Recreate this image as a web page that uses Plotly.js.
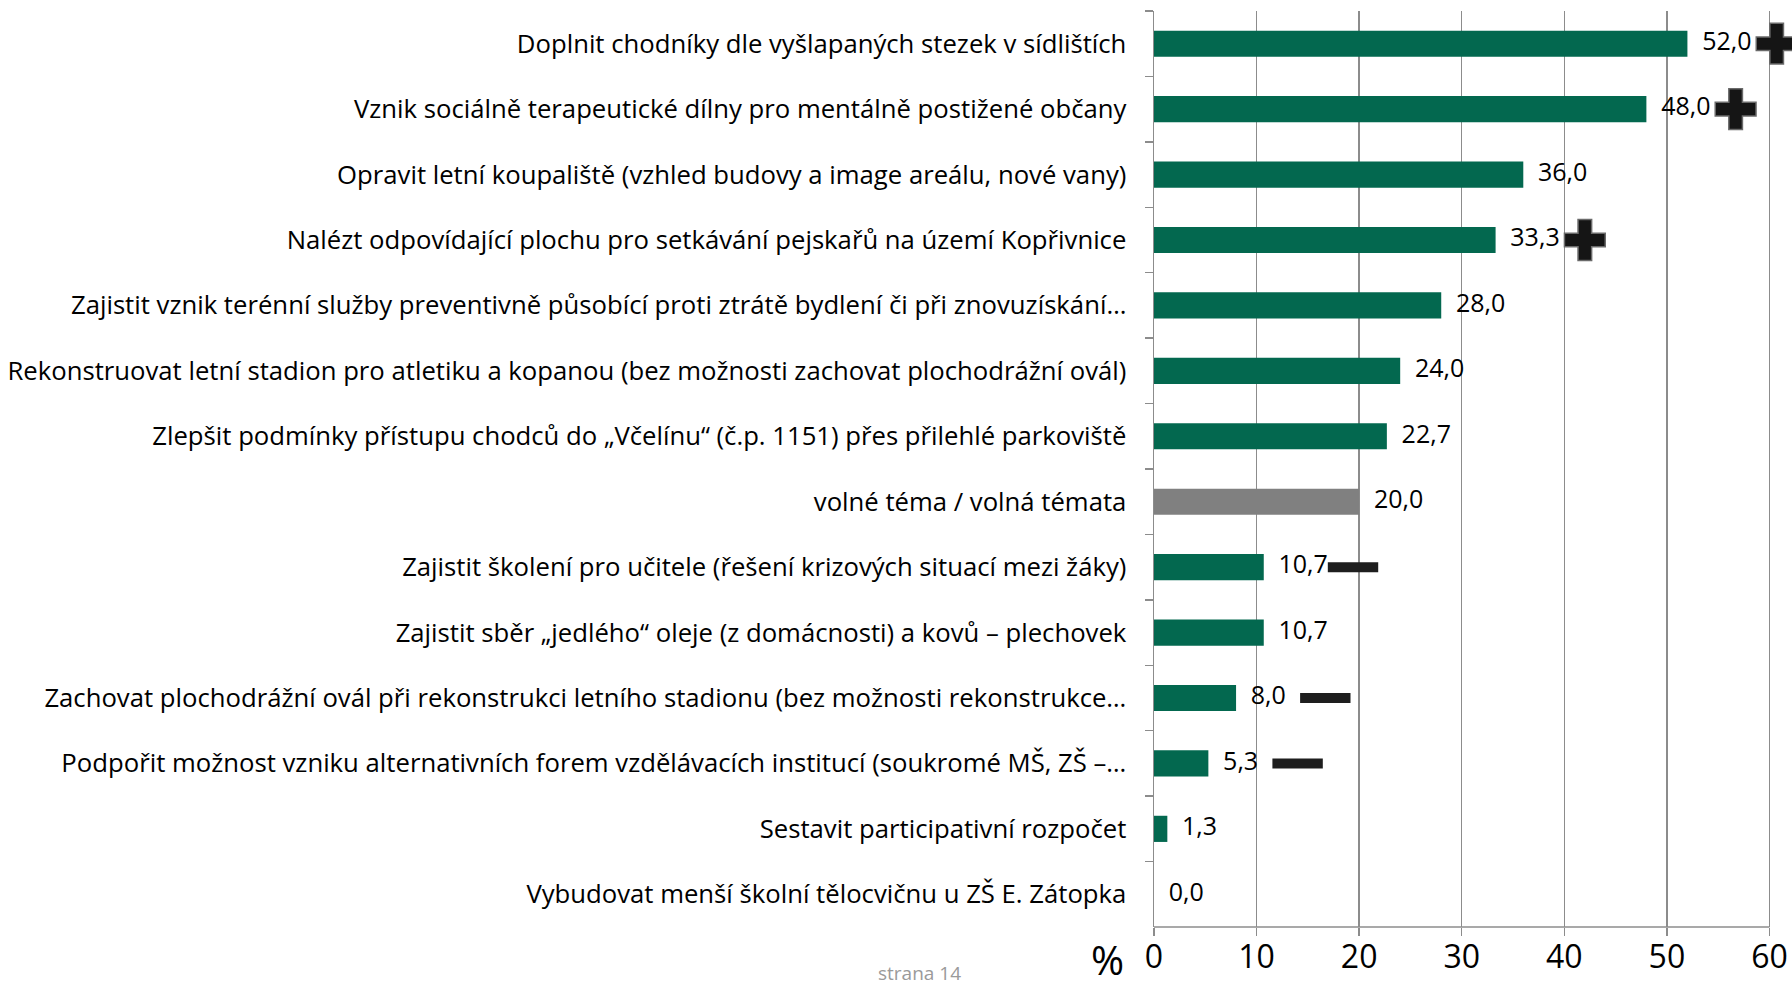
<!DOCTYPE html>
<html>
<head>
<meta charset="utf-8">
<script src="https://cdn.plot.ly/plotly-3.0.1.min.js"></script>
<style>
  html, body { margin: 0; padding: 0; background: #fff; }
  #chart { width: 1792px; height: 988px; }
</style>
</head>
<body>
<div id="chart"></div>
<script>
const categories = [
  'Doplnit chodníky dle vyšlapaných stezek v sídlištích',
  'Vznik sociálně terapeutické dílny pro mentálně postižené občany',
  'Opravit letní koupaliště (vzhled budovy a image areálu, nové vany)',
  'Nalézt odpovídající plochu pro setkávání pejskařů na území Kopřivnice',
  'Zajistit vznik terénní služby preventivně působící proti ztrátě bydlení či při znovuzískání…',
  'Rekonstruovat letní stadion pro atletiku a kopanou (bez možnosti zachovat plochodrážní ovál)',
  'Zlepšit podmínky přístupu chodců do „Včelínu“ (č.p. 1151) přes přilehlé parkoviště',
  'volné téma / volná témata',
  'Zajistit školení pro učitele (řešení krizových situací mezi žáky)',
  'Zajistit sběr „jedlého“ oleje (z domácnosti) a kovů – plechovek',
  'Zachovat plochodrážní ovál při rekonstrukci letního stadionu (bez možnosti rekonstrukce…',
  'Podpořit možnost vzniku alternativních forem vzdělávacích institucí (soukromé MŠ, ZŠ –…',
  'Sestavit participativní rozpočet',
  'Vybudovat menší školní tělocvičnu u ZŠ E. Zátopka'
];
const values = [52.0, 48.0, 36.0, 33.3, 28.0, 24.0, 22.7, 20.0, 10.7, 10.7, 8.0, 5.3, 1.3, 0.0];
const signs = ['+', '+', '', '+', '', '', '', '', '-', '', '-', '-', '', ''];
const freeTopic = 'volné téma / volná témata';
const xTicks = [0, 10, 20, 30, 40, 50, 60];

const GREEN = '#03684f';
const GREY_BAR = '#808080';
const GRID = '#8c8c8c';
const FONT = '"Open Sans", "Noto Sans", sans-serif';

const fmt = v => v.toFixed(1).replace('.', ',');
const SIGN_OFFSET = 8.7;
const X_MAX = 60;

const plusIdx = signs.map((s, i) => s === '+' ? i : -1).filter(i => i >= 0);
const minusIdx = signs.map((s, i) => s === '-' ? i : -1).filter(i => i >= 0);

const traces = [
  {
    type: 'bar', orientation: 'h',
    x: values, y: categories,
    marker: { color: categories.map(c => c === freeTopic ? GREY_BAR : GREEN) },
    width: 0.4,
    hoverinfo: 'skip'
  },
  {
    type: 'scatter', mode: 'markers+text',
    x: values, y: categories,
    text: values.map(fmt),
    textposition: 'middle right',
    textfont: { family: FONT, size: 25, color: '#000' },
    marker: { size: 22, opacity: 0 },
    cliponaxis: false,
    hoverinfo: 'skip'
  },
  {
    type: 'scatter', mode: 'markers',
    x: plusIdx.map(i => values[i] + SIGN_OFFSET),
    y: plusIdx.map(i => categories[i]),
    marker: { symbol: 'cross', size: 34, color: '#151515', line: { color: '#6a6a6a', width: 1.5 } },
    cliponaxis: false,
    hoverinfo: 'skip'
  },
  {
    type: 'scatter', mode: 'markers',
    x: minusIdx.map(i => values[i] + SIGN_OFFSET),
    y: minusIdx.map(i => categories[i]),
    marker: { symbol: 'line-ew', size: 36, line: { color: '#1e1e1e', width: 10 } },
    cliponaxis: false,
    hoverinfo: 'skip'
  }
];

const layout = {
  width: 1792, height: 988,
  margin: { l: 1154, r: 2, t: 11, b: 61 },
  paper_bgcolor: '#fff', plot_bgcolor: '#fff',
  showlegend: false,
  font: { family: FONT, color: '#000' },
  xaxis: {
    range: [0, 62], tickvals: xTicks, ticktext: xTicks.map(String),
    showgrid: true, gridcolor: GRID, gridwidth: 1.5,
    showline: false,
    ticks: 'outside', ticklen: 8, tickcolor: GRID, tickwidth: 1.5,
    ticklabelstandoff: -6,
    tickfont: { family: FONT, size: 32, color: '#000' },
    zeroline: false, fixedrange: true
  },
  yaxis: {
    type: 'category', range: [categories.length - 0.5, -0.5],
    showgrid: false, zeroline: false,
    showline: true, linecolor: GRID, linewidth: 1.5,
    ticks: 'outside', ticklen: 8, tickcolor: GRID, tickwidth: 1.5,
    tickson: 'boundaries',
    ticklabelstandoff: 21,
    tickfont: { family: FONT, size: 25.7, color: '#000' },
    fixedrange: true
  },
  shapes: [
    {
      type: 'line', xref: 'x', yref: 'paper',
      x0: 0, x1: X_MAX, y0: 0, y1: 0,
      line: { color: GRID, width: 1.5 }
    }
  ],
  annotations: [
    {
      xref: 'paper', yref: 'paper', x: -0.044, y: -0.035,
      xanchor: 'right', yanchor: 'middle',
      text: '%', showarrow: false,
      font: { family: FONT, size: 40, color: '#000' }
    },
    {
      xref: 'paper', yref: 'paper', x: -0.369, y: -0.034,
      xanchor: 'center', yanchor: 'top',
      text: 'strana 14', showarrow: false,
      font: { family: FONT, size: 19, color: '#9a9a9a' }
    }
  ]
};

Plotly.newPlot('chart', traces, layout, { displayModeBar: false, staticPlot: true });
</script>
</body>
</html>
